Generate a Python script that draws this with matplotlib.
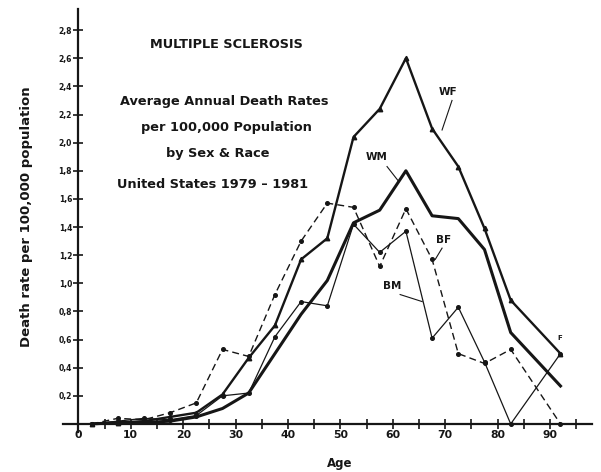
import matplotlib
matplotlib.use("Agg")
import matplotlib.pyplot as plt

# Age group midpoints (85+ plotted at 92)
ages = [2.5, 7.5, 12.5, 17.5, 22.5, 27.5, 32.5, 37.5, 42.5, 47.5,
        52.5, 57.5, 62.5, 67.5, 72.5, 77.5, 82.5, 92]

# Death rates per 100,000
wf = [0.0, 0.01, 0.02, 0.05, 0.08, 0.21, 0.47, 0.70, 1.17, 1.32,
      2.04, 2.24, 2.60, 2.10, 1.83, 1.39, 0.88, 0.50]
wm = [0.0, 0.01, 0.01, 0.02, 0.05, 0.11, 0.22, 0.50, 0.78, 1.02,
      1.43, 1.52, 1.80, 1.48, 1.46, 1.24, 0.65, 0.27]
bf = [0.0, 0.04, 0.03, 0.08, 0.15, 0.53, 0.48, 0.92, 1.30, 1.57,
      1.54, 1.12, 1.53, 1.17, 0.50, 0.43, 0.53, 0.0]
bm = [0.0, 0.02, 0.04, 0.03, 0.06, 0.20, 0.22, 0.62, 0.87, 0.84,
      1.42, 1.22, 1.37, 0.61, 0.83, 0.44, 0.0, 0.50]

yticks = [0.2, 0.4, 0.6, 0.8, 1.0, 1.2, 1.4, 1.6, 1.8, 2.0, 2.2, 2.4, 2.6, 2.8]
ytick_labels = [f"{v:.1f}".replace(".", ",") for v in yticks]
xticks = list(range(0, 100, 5))
xlabel_ticks = [0, 10, 20, 30, 40, 50, 60, 70, 80, 90]

ink = "#161616"
plt.rcParams["font.family"] = "DejaVu Sans"
plt.rcParams["font.weight"] = "bold"

fig = plt.figure(figsize=(6.01, 4.72), dpi=100)
ax = fig.add_axes([0.1043, 0.0839, 0.8806, 0.897])
ax.set_xlim(-3, 98)
ax.set_ylim(-0.06, 2.95)

# series
ax.plot(ages, wm, color=ink, lw=2.2, solid_joinstyle="round")
ax.plot(ages, wf, color=ink, lw=1.7, marker="^", ms=3.2)
ax.plot(ages, bf, color=ink, lw=1.0, ls=(0, (5, 3)), marker="o", ms=2.6)
ax.plot(ages, bm, color=ink, lw=0.9, marker="o", ms=2.6)

# axes crossing at the origin
for s in ["top", "right"]:
    ax.spines[s].set_visible(False)
for s in ["left", "bottom"]:
    ax.spines[s].set_position(("data", 0))
    ax.spines[s].set_linewidth(1.6)
    ax.spines[s].set_color(ink)

ax.set_yticks(yticks)
ax.set_yticklabels(ytick_labels, fontsize=5.5, fontweight="bold", color=ink)
ax.set_xticks(xticks)
ax.set_xticklabels([str(t) if t in xlabel_ticks else "" for t in xticks],
                   fontsize=7.8, fontweight="bold", color=ink)
ax.tick_params(axis="both", direction="inout", length=7, width=1.2, colors=ink)
ax.tick_params(axis="x", pad=1)
ax.tick_params(axis="y", pad=1)

fig.text(27 / 601, 1 - 217 / 472, "Death rate per 100,000 population",
         rotation=90, ha="center", va="center", fontsize=9.5,
         fontweight="bold", color=ink)
fig.text(340 / 601, 1 - 463 / 472, "Age", ha="center", va="center",
         fontsize=8.5, fontweight="bold", color=ink)

# title block
title_lines = [
    ("MULTIPLE SCLEROSIS", 226, 45),
    ("Average Annual Death Rates", 224, 102),
    ("per 100,000 Population", 226, 128),
    ("by Sex & Race", 218, 153),
    ("United States 1979 \u2013 1981", 213, 185),
]
for txt, px, py in title_lines:
    fig.text(px / 601, 1 - py / 472, txt, ha="center", va="center",
             fontsize=9.3, fontweight="bold", color=ink)

# series labels with leader lines
labels = [
    ("WF", (70.5, 2.36), (71.3, 2.30), (69.4, 2.09)),
    ("WM", (57.0, 1.90), (58.9, 1.83), (61.0, 1.73)),
    ("BF", (69.6, 1.31), (69.4, 1.25), (68.1, 1.17)),
    ("BM", (59.8, 0.98), (61.4, 0.92), (65.6, 0.87)),
]
for txt, pos, l0, l1 in labels:
    ax.text(pos[0], pos[1], txt, ha="center", va="center", fontsize=7.5,
            fontweight="bold", color=ink)
    ax.plot([l0[0], l1[0]], [l0[1], l1[1]], color=ink, lw=0.8)
ax.text(91.9, 0.61, "F", ha="center", va="center", fontsize=5,
        fontweight="bold", color=ink)

fig.savefig("out.png", dpi=100, facecolor="white")
